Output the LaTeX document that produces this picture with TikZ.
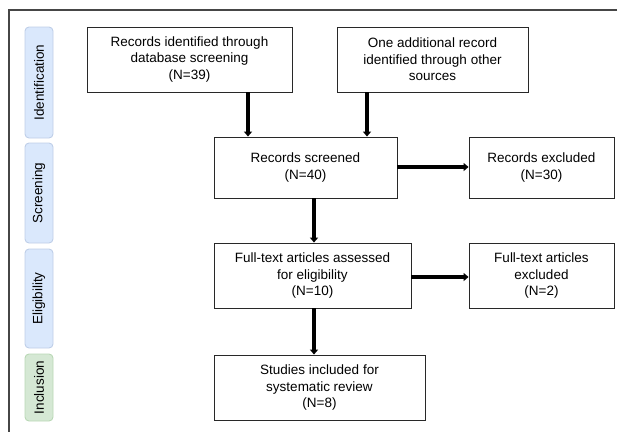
\documentclass[tikz,border=0pt]{standalone}
\usepackage{fontspec}
\setmainfont{Liberation Sans}
\usetikzlibrary{arrows.meta}
\definecolor{bluefill}{RGB}{218,232,252}
\definecolor{bluedraw}{RGB}{190,206,232}
\definecolor{greenfill}{RGB}{213,232,212}
\definecolor{greendraw}{RGB}{185,216,181}
\definecolor{framegray}{RGB}{70,70,70}
\definecolor{boxgray}{RGB}{40,40,40}
\begin{document}
\begin{tikzpicture}[x=1pt,y=-1pt,
  flowbox/.style={draw=boxgray, line width=0.9pt, rectangle, align=center, inner sep=0pt,
    font=\fontsize{13.5}{16.5}\selectfont},
  phase/.style={rectangle, rounded corners=4pt, line width=0.9pt, rotate=90, inner sep=0pt,
    minimum height=28pt, font=\fontsize{13.5}{16.5}\selectfont},
  bluephase/.style={phase, fill=bluefill, draw=bluedraw},
  greenphase/.style={phase, fill=greenfill, draw=greendraw},
  flowarrow/.style={line width=3.6pt, -{Triangle[width=8pt,length=5pt]}}
]
\useasboundingbox (0,0) rectangle (618,432);
\draw[framegray, line width=1.3pt] (617,10) -- (9,10) -- (9,432);

% phase labels
\node[bluephase, minimum width=111pt] (pid) at (39,82.5) {Identification};
\node[bluephase, minimum width=100pt] (psc) at (39,193) {Screening};
\node[bluephase, minimum width=99pt] (pel) at (39,298.5) {Eligibility};
\node[greenphase, minimum width=67pt] (pin) at (39,387.5) {Inclusion};

% boxes
\node[flowbox, minimum width=205pt, minimum height=65pt] (b1) at (189.5,59.5)
  {Records identified through\\database screening\\(N=39)};
\node[flowbox, minimum width=191pt, minimum height=65pt] (b2) at (432.5,59.5)
  {One additional record\\identified through other\\sources};
\node[flowbox, minimum width=183pt, minimum height=61pt] (b3) at (305.5,167.5)
  {Records screened\\(N=40)};
\node[flowbox, minimum width=145pt, minimum height=61pt] (b4) at (541.5,167.5)
  {Records excluded\\(N=30)};
\node[flowbox, minimum width=197pt, minimum height=65pt] (b5) at (312.5,275.5)
  {Full-text articles assessed\\for eligibility\\(N=10)};
\node[flowbox, minimum width=145pt, minimum height=65pt] (b6) at (541.5,275.5)
  {Full-text articles\\excluded\\(N=2)};
\node[flowbox, minimum width=211pt, minimum height=65pt] (b7) at (319.5,387.5)
  {Studies included for\\systematic review\\(N=8)};

% arrow positions
\coordinate (c1) at (248,0);
\coordinate (c2) at (367,0);
\coordinate (c3) at (314,0);
\coordinate (r1) at (0,167);
\coordinate (r2) at (0,277);

\draw[flowarrow] (b1.south -| c1) -- (b3.north -| c1);
\draw[flowarrow] (b2.south -| c2) -- (b3.north -| c2);
\draw[flowarrow] (b3.east |- r1) -- (b4.west |- r1);
\draw[flowarrow] (b3.south -| c3) -- (b5.north -| c3);
\draw[flowarrow] (b5.east |- r2) -- (b6.west |- r2);
\draw[flowarrow] (b5.south -| c3) -- (b7.north -| c3);
\end{tikzpicture}
\end{document}
